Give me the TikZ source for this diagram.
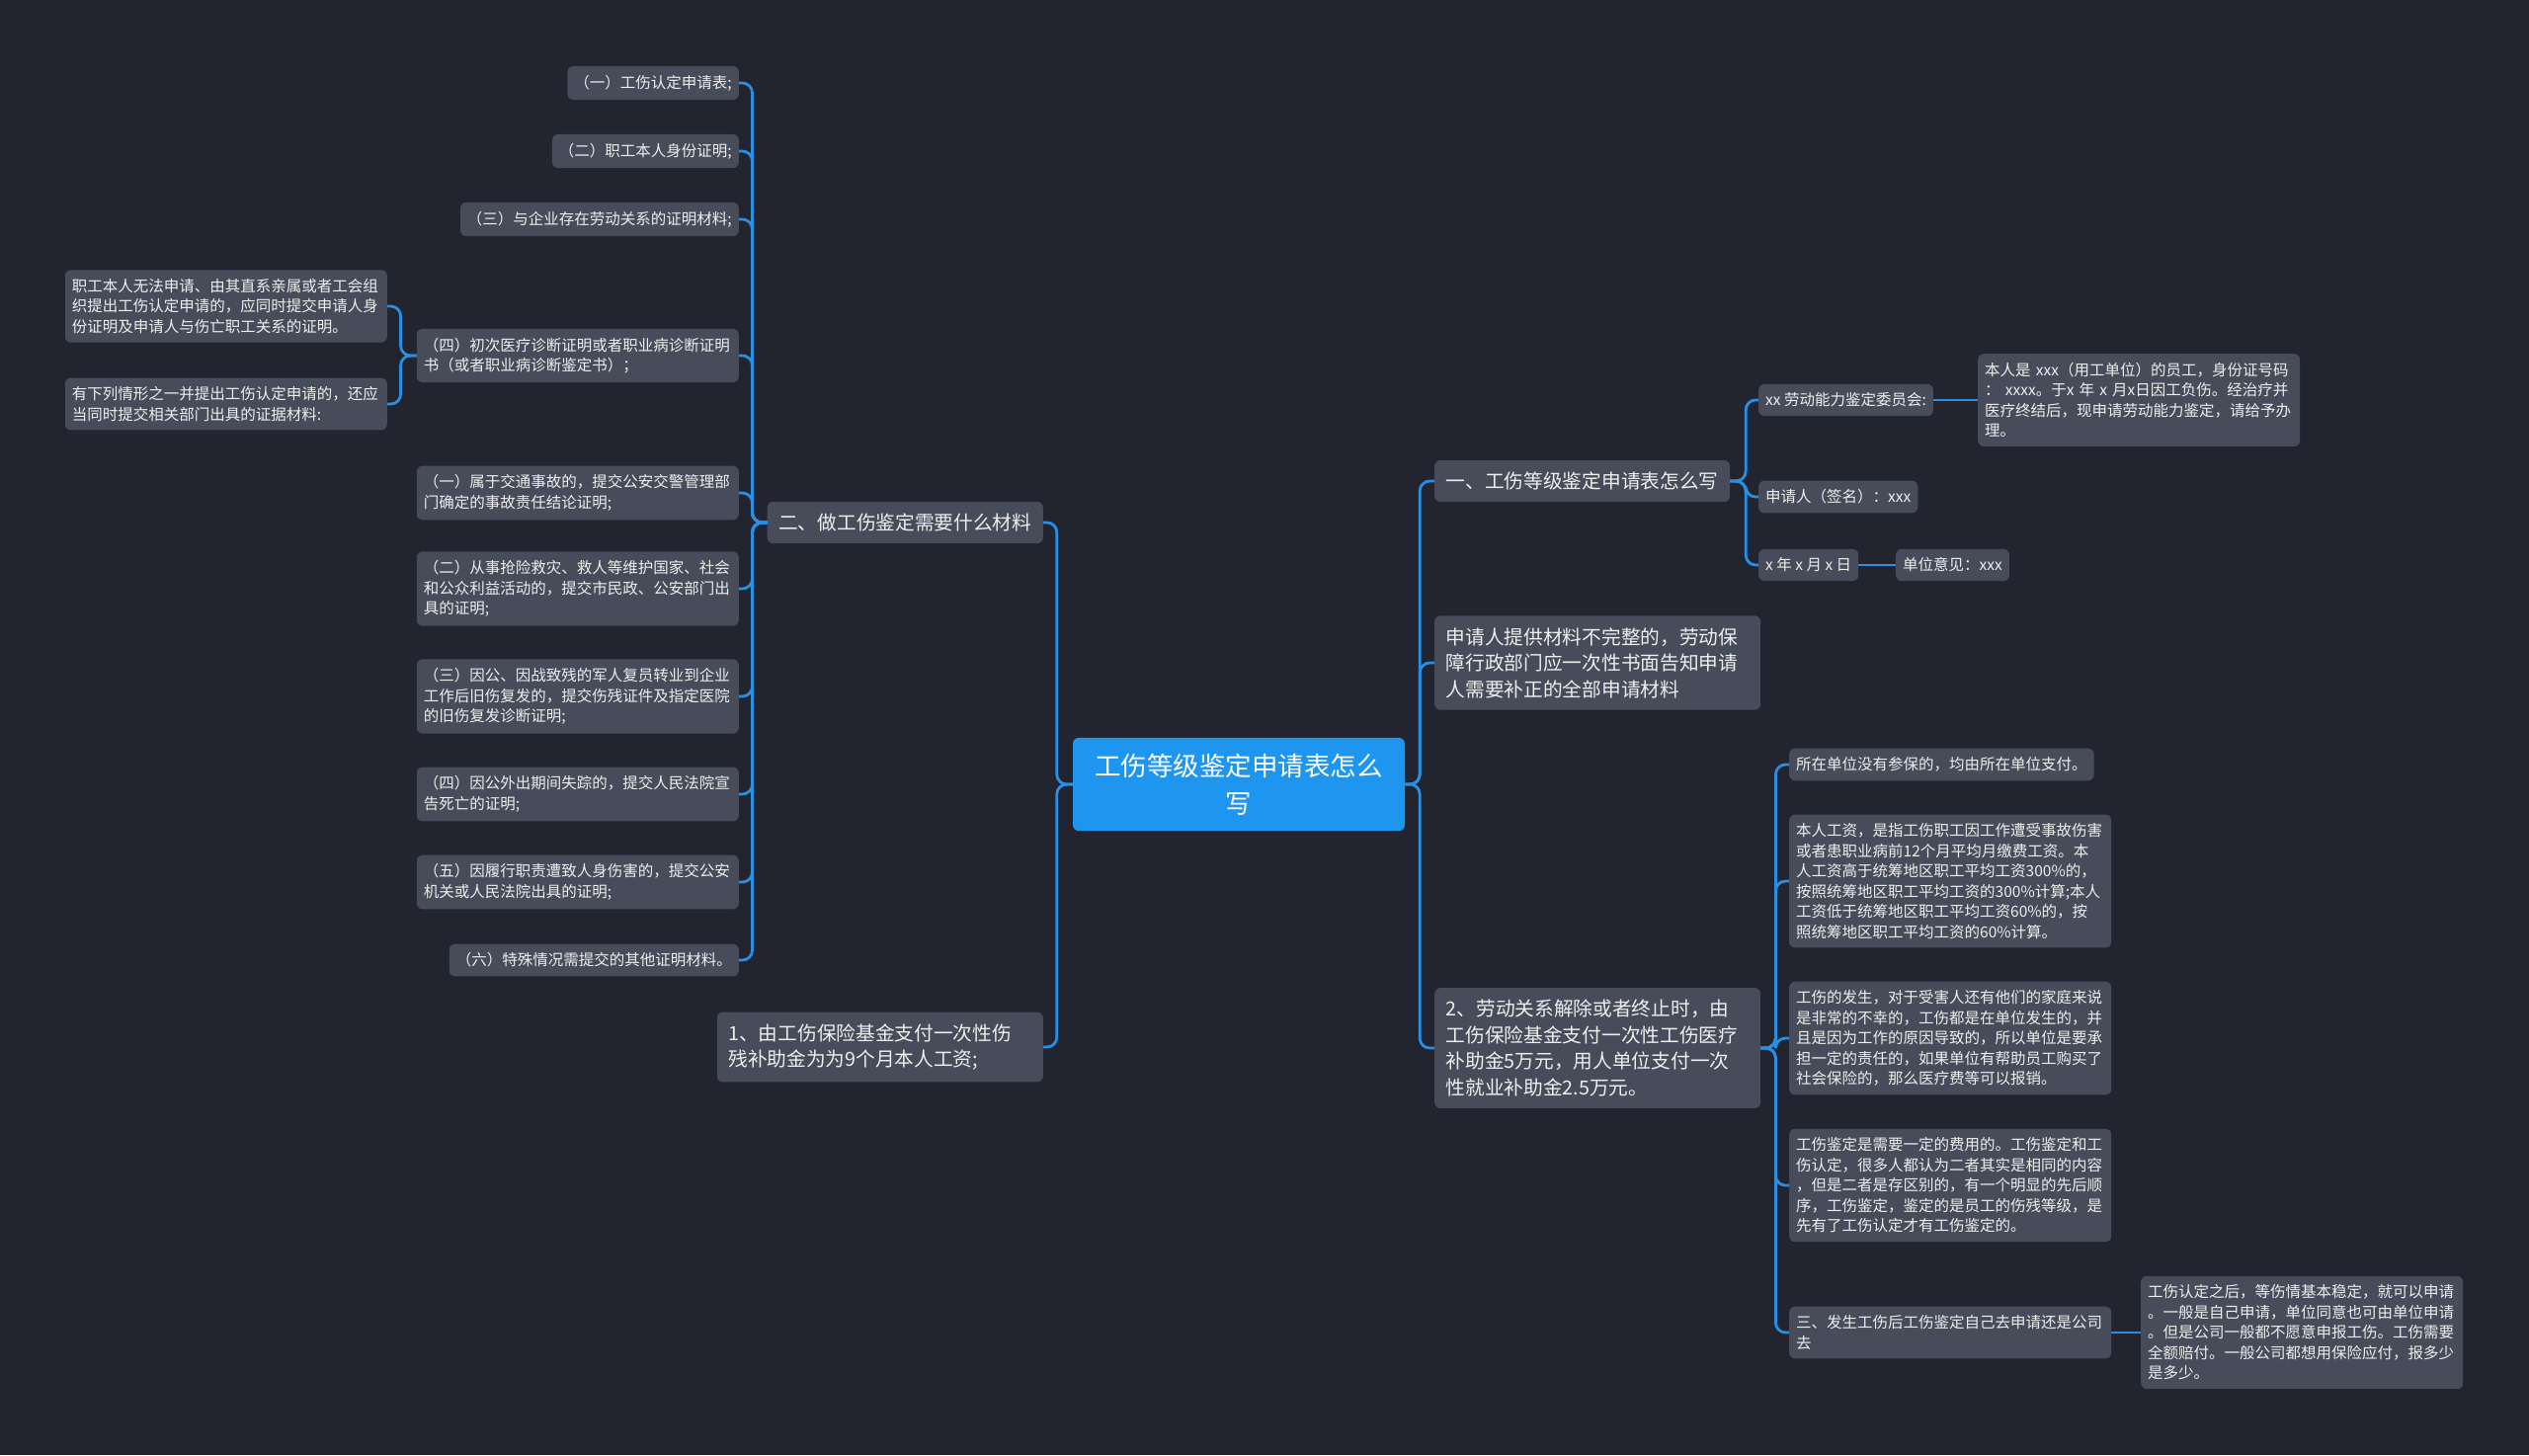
\documentclass[tikz,border=0pt]{standalone}
\usepackage{fontspec}
\setmainfont{Noto Sans CJK SC}
\definecolor{mapbg}{HTML}{22252F}
\definecolor{mapnode}{HTML}{474C5A}
\definecolor{maproot}{HTML}{1E95EE}
\definecolor{mapline}{HTML}{2A8FE2}
\definecolor{maptext}{HTML}{EEEEEE}

\begin{document}
\begin{tikzpicture}[
  x=1pt,
  y=-1pt,
  leaf/.style={fill=mapnode, text=maptext, rounded corners=6pt, align=left,
    inner xsep=7pt, inner ysep=9pt, font=\fontsize{15.5pt}{20.5pt}\selectfont},
  wideleaf/.style={leaf, text width=312pt},
  branch/.style={fill=mapnode, text=maptext, rounded corners=6pt, align=left,
    inner xsep=11.5pt, inner ysep=12pt, font=\fontsize{19.7pt}{26.5pt}\selectfont},
  widebranch/.style={branch, text width=307pt},
  rootbox/.style={fill=maproot, text=white, rounded corners=6pt, align=center,
    text width=292pt, inner xsep=22pt, inner ysep=16pt,
    font=\fontsize{26.5pt}{38pt}\selectfont},
  link/.style={draw=mapline, line width=2.8pt, rounded corners=10pt}
]
  \fill[mapbg] (0,0) rectangle (2560,1473);

  \node[rootbox] (root) at (1254,794) {工伤等级鉴定申请表怎么\\写};

  % left half
  \node[branch, anchor=east] (mat) at (1056,529) {二、做工伤鉴定需要什么材料};
  \node[widebranch, anchor=east] (pay1) at (1056,1060) {1、由工伤保险基金支付一次性伤\\残补助金为为9个月本人工资;};

  \node[leaf, anchor=east] (m1) at (748,84) {（一）工伤认定申请表;};
  \node[leaf, anchor=east] (m2) at (748,153) {（二）职工本人身份证明;};
  \node[leaf, anchor=east] (m3) at (748,222) {（三）与企业存在劳动关系的证明材料;};
  \node[wideleaf, anchor=east] (m4) at (748,360) {（四）初次医疗诊断证明或者职业病诊断证明\\书（或者职业病诊断鉴定书）；};
  \node[wideleaf, anchor=east] (m5) at (748,499) {（一）属于交通事故的，提交公安交警管理部\\门确定的事故责任结论证明;};
  \node[wideleaf, anchor=east] (m6) at (748,596) {（二）从事抢险救灾、救人等维护国家、社会\\和公众利益活动的，提交市民政、公安部门出\\具的证明;};
  \node[wideleaf, anchor=east] (m7) at (748,705) {（三）因公、因战致残的军人复员转业到企业\\工作后旧伤复发的，提交伤残证件及指定医院\\的旧伤复发诊断证明;};
  \node[wideleaf, anchor=east] (m8) at (748,804) {（四）因公外出期间失踪的，提交人民法院宣\\告死亡的证明;};
  \node[wideleaf, anchor=east] (m9) at (748,893) {（五）因履行职责遭致人身伤害的，提交公安\\机关或人民法院出具的证明;};
  \node[leaf, anchor=east] (m10) at (748,972) {（六）特殊情况需提交的其他证明材料。};

  \node[wideleaf, anchor=east] (q1) at (392,310) {职工本人无法申请、由其直系亲属或者工会组\\织提出工伤认定申请的，应同时提交申请人身\\份证明及申请人与伤亡职工关系的证明。};
  \node[wideleaf, anchor=east] (q2) at (392,409) {有下列情形之一并提出工伤认定申请的，还应\\当同时提交相关部门出具的证据材料:};

  % right half
  \node[branch, anchor=west] (form) at (1452,487) {一、工伤等级鉴定申请表怎么写};
  \node[widebranch, anchor=west] (notice) at (1452,671) {申请人提供材料不完整的，劳动保\\障行政部门应一次性书面告知申请\\人需要补正的全部申请材料};
  \node[widebranch, anchor=west] (pay2) at (1452,1061) {2、劳动关系解除或者终止时，由\\工伤保险基金支付一次性工伤医疗\\补助金5万元，用人单位支付一次\\性就业补助金2.5万元。};

  \node[leaf, anchor=west] (f1) at (1780,405) {xx 劳动能力鉴定委员会:};
  \node[wideleaf, anchor=west] (f1c) at (2002,405) {本人是 xxx（用工单位）的员工，身份证号码\\： xxxx。于x 年 x 月x日因工负伤。经治疗并\\医疗终结后，现申请劳动能力鉴定，请给予办\\理。};
  \node[leaf, anchor=west] (f2) at (1780,503) {申请人（签名）：xxx};
  \node[leaf, anchor=west] (f3) at (1780,572) {x 年 x 月 x 日};
  \node[leaf, anchor=west] (f3c) at (1919,572) {单位意见：xxx};

  \node[leaf, anchor=west] (p1) at (1811,774) {所在单位没有参保的，均由所在单位支付。};
  \node[wideleaf, anchor=west] (p2) at (1811,892) {本人工资，是指工伤职工因工作遭受事故伤害\\或者患职业病前12个月平均月缴费工资。本\\人工资高于统筹地区职工平均工资300\%的，\\按照统筹地区职工平均工资的300\%计算;本人\\工资低于统筹地区职工平均工资60\%的，按\\照统筹地区职工平均工资的60\%计算。};
  \node[wideleaf, anchor=west] (p3) at (1811,1051) {工伤的发生，对于受害人还有他们的家庭来说\\是非常的不幸的，工伤都是在单位发生的，并\\且是因为工作的原因导致的，所以单位是要承\\担一定的责任的，如果单位有帮助员工购买了\\社会保险的，那么医疗费等可以报销。};
  \node[wideleaf, anchor=west] (p4) at (1811,1200) {工伤鉴定是需要一定的费用的。工伤鉴定和工\\伤认定，很多人都认为二者其实是相同的内容\\，但是二者是存区别的，有一个明显的先后顺\\序，工伤鉴定，鉴定的是员工的伤残等级，是\\先有了工伤认定才有工伤鉴定的。};
  \node[wideleaf, anchor=west] (p5) at (1811,1349) {三、发生工伤后工伤鉴定自己去申请还是公司\\去};
  \node[wideleaf, anchor=west] (p5c) at (2167,1349) {工伤认定之后，等伤情基本稳定，就可以申请\\。一般是自己申请，单位同意也可由单位申请\\。但是公司一般都不愿意申报工伤。工伤需要\\全额赔付。一般公司都想用保险应付，报多少\\是多少。};

  % connectors
  \foreach \k in {mat,pay1}
    \draw[link] (root.west) -- ++(-16,0) |- (\k.east);
  \foreach \k in {form,notice,pay2}
    \draw[link] (root.east) -- ++(15,0) |- (\k.west);
  \foreach \k in {m1,m2,m3,m4,m5,m6,m7,m8,m9,m10}
    \draw[link] (mat.west) -- ++(-15,0) |- (\k.east);
  \foreach \k in {q1,q2}
    \draw[link] (m4.west) -- ++(-16,0) |- (\k.east);
  \foreach \k in {f1,f2,f3}
    \draw[link] (form.east) -- ++(16,0) |- (\k.west);
  \foreach \k in {p1,p2,p3,p4,p5}
    \draw[link] (pay2.east) -- ++(15,0) |- (\k.west);
  \draw[link] (f1.east) -- (f1c.west);
  \draw[link] (f3.east) -- (f3c.west);
  \draw[link] (p5.east) -- (p5c.west);
\end{tikzpicture}
\end{document}
